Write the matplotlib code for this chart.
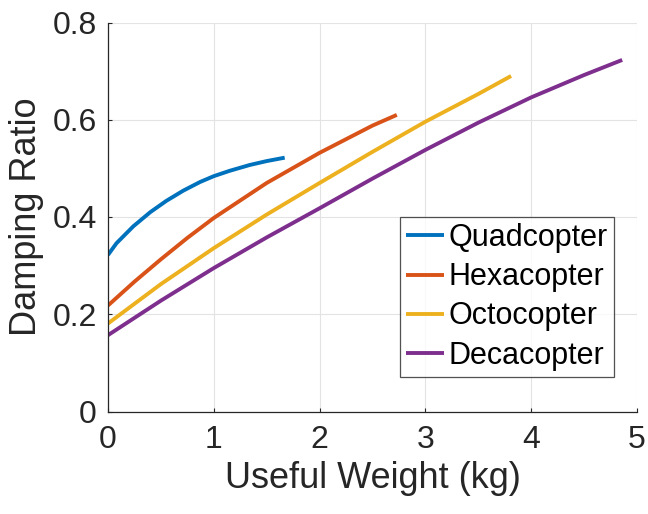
import matplotlib
matplotlib.use("Agg")
import matplotlib.pyplot as plt

# Damping ratio versus useful weight for each multirotor configuration
quad_x = [0, 0.08, 0.24, 0.40, 0.55, 0.71, 0.87, 1.00, 1.15, 1.34, 1.50, 1.67]
quad_y = [0.322, 0.346, 0.381, 0.410, 0.433, 0.454, 0.472, 0.484, 0.495, 0.507, 0.515, 0.522]

hexa_x = [0, 0.25, 0.5, 0.75, 1.0, 1.5, 2.0, 2.5, 2.73]
hexa_y = [0.218, 0.267, 0.313, 0.357, 0.398, 0.470, 0.532, 0.588, 0.610]

octo_x = [0, 0.5, 1.0, 1.5, 2.0, 2.5, 3.0, 3.5, 3.81]
octo_y = [0.181, 0.262, 0.336, 0.405, 0.470, 0.534, 0.596, 0.653, 0.690]

deca_x = [0, 0.5, 1.0, 1.5, 2.0, 2.5, 3.0, 3.5, 4.0, 4.5, 4.86]
deca_y = [0.157, 0.228, 0.295, 0.358, 0.418, 0.479, 0.538, 0.594, 0.646, 0.692, 0.723]

labels = ["Quadcopter", "Hexacopter", "Octocopter", "Decacopter"]
colors = ["#0072BD", "#D95319", "#EDB120", "#7E2F8E"]

x_ticks = [0, 1, 2, 3, 4, 5]
y_ticks = [0, 0.2, 0.4, 0.6, 0.8]

plt.rcParams["font.family"] = ["Liberation Sans", "DejaVu Sans"]
text_color = "#262626"

fig = plt.figure(figsize=(6.48, 5.14), dpi=100)
ax = fig.add_axes([108 / 648, 1 - 411.5 / 514, 529 / 648, 389 / 514])

series = [(quad_x, quad_y), (hexa_x, hexa_y), (octo_x, octo_y), (deca_x, deca_y)]
for (xs, ys), lab, col in zip(series, labels, colors):
    ax.plot(xs, ys, color=col, lw=2.8, label=lab, solid_capstyle="butt",
            solid_joinstyle="round")

ax.set_xlim(0, 5)
ax.set_ylim(0, 0.8)
ax.set_xticks(x_ticks)
ax.set_yticks(y_ticks)
ax.set_xticklabels([f"{v:g}" for v in x_ticks])
ax.set_yticklabels([f"{v:g}" for v in y_ticks])

ax.grid(True, color="#e3e3e3", lw=0.8)
ax.set_axisbelow(True)
for side in ("top", "right"):
    ax.spines[side].set_visible(False)
for side in ("left", "bottom"):
    ax.spines[side].set_color(text_color)
    ax.spines[side].set_linewidth(0.9)

ax.tick_params(direction="in", length=3, width=0.8, colors=text_color,
               labelsize=23)
ax.tick_params(axis="x", pad=10)
ax.tick_params(axis="y", pad=8)
ax.set_xlabel("Useful Weight (kg)", fontsize=26, color=text_color, labelpad=4)
ax.set_ylabel("Damping Ratio", fontsize=26, color=text_color, labelpad=6)

leg = ax.legend(loc="lower right", bbox_to_anchor=(0.9565, 0.0895), fontsize=22,
                frameon=True, fancybox=False, handlelength=1.25,
                handletextpad=0.15, labelspacing=0.3, borderpad=0.2,
                borderaxespad=0)
leg.get_frame().set_edgecolor(text_color)
leg.get_frame().set_linewidth(0.9)
for t in leg.get_texts():
    t.set_color("#000000")

fig.savefig("out.png", dpi=100, facecolor="white")
